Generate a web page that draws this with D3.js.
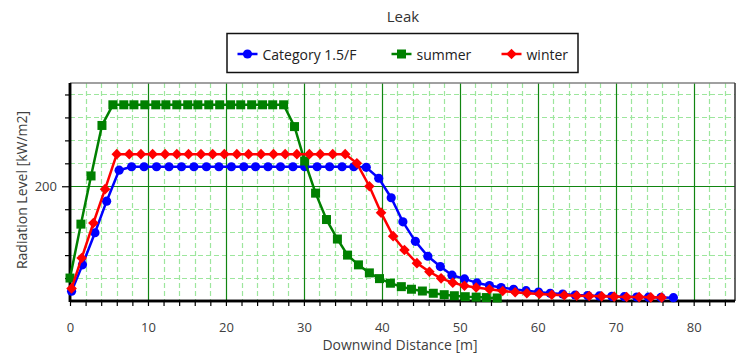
<!DOCTYPE html>
<html>
<head>
<meta charset="utf-8"/>
<title>Leak</title>
<script src="https://d3js.org/d3.v7.min.js"></script>
<style>
  body { margin: 0; padding: 0; background: #fff; width: 737px; height: 358px; overflow: hidden;
         font-family: 'Open Sans', 'Noto Sans', sans-serif; }
  .tick text { font-family: 'Open Sans', 'Noto Sans', sans-serif; }
</style>
</head>
<body>
<div id="chart"></div>
<script>
// Downwind distance [m] and radiation level for each scenario
const blueX = [0.2, 1.6, 3.2, 4.7, 6.3, 7.9, 9.5, 11.1, 12.7, 14.3, 15.9, 17.5, 19.1, 20.7, 22.3, 23.8, 25.4, 27.0, 28.6, 30.1,
               31.7, 33.3, 34.9, 36.4, 38.0, 39.6, 41.2, 42.7, 44.3, 45.9, 47.5, 49.0, 50.6, 52.2, 53.8, 55.3, 56.9, 58.5, 60.1, 61.6,
               63.2, 64.8, 66.4, 67.9, 69.5, 71.1, 72.7, 74.2, 75.8, 77.4];
const blueY = [17, 63, 119, 174, 228, 234, 234, 234, 234, 234, 234, 234, 234, 234, 234, 234, 234, 234, 234, 234,
               234, 234, 234, 234, 233, 214, 180, 138, 104, 78, 60, 45, 38.5, 31.5, 27, 23.5, 20.5, 18, 15.5, 13.5,
               12, 10.5, 9.5, 8.8, 8.2, 7.6, 7.0, 6.6, 6.2, 5.8];

const greenX = [0, 1.4, 2.7, 4.1, 5.5, 6.9, 8.2, 9.6, 11.0, 12.3, 13.7, 15.1, 16.4, 17.8, 19.2, 20.6, 21.9, 23.3, 24.7, 26.0,
                27.4, 28.8, 30.1, 31.5, 32.9, 34.3, 35.6, 37.0, 38.4, 39.7, 41.1, 42.5, 43.8, 45.2, 46.6, 48.0, 49.3, 50.7, 52.1, 53.4,
                54.8];
const greenY = [40, 134, 218, 306, 342, 342, 342, 342, 342, 342, 342, 342, 342, 342, 342, 342, 342, 342, 342, 342,
                342, 304, 244, 188, 142, 108, 80, 63, 49, 39, 31, 25, 20.5, 17.4, 13.5, 11, 9.2, 7.5, 6.8, 6,
                5.3];

const redX = [0.2, 1.5, 3.0, 4.5, 6.0, 7.6, 9.1, 10.6, 12.2, 13.7, 15.2, 16.8, 18.3, 19.8, 21.4, 22.9, 24.5, 26.1, 27.6, 29.1,
              30.7, 32.1, 33.7, 35.3, 36.8, 38.4, 39.9, 41.45, 42.9, 44.5, 46.1, 47.6, 49.1, 50.6, 52.1, 53.8, 55.5, 57.1, 58.6, 60.2,
              61.8, 63.4, 65.0, 66.6, 68.2, 69.8, 71.4, 73.0, 74.5, 75.9];
const redY = [22, 75, 136, 195, 256, 256, 256, 256, 256, 256, 256, 256, 256, 256, 256, 256, 256, 256, 256, 256,
              256, 256, 256, 256, 240, 200, 154, 113, 89, 66, 51, 39.5, 32, 26.5, 23.5, 20.5, 17.5, 15.3, 13.5, 12.2,
              11, 10, 9.2, 8.6, 8.1, 7.6, 7.1, 6.8, 6.4, 6];

const seriesNames = ["Category 1.5/F", "summer", "winter"];
const xMajorTicks = [0, 10, 20, 30, 40, 50, 60, 70, 80];
const yMajorTicks = [200];
const yMinorTicks = [40, 80, 120, 160, 240, 280, 320, 360];

const W = 737, H = 358;
const plot = {left: 70, top: 83, right: 735, bottom: 301};

const svg = d3.select("#chart").append("svg")
    .attr("width", W).attr("height", H);

const x = d3.scaleLinear().domain([0, 85.3]).range([plot.left, plot.right]);
const y = d3.scaleLinear().domain([0, 380]).range([plot.bottom, plot.top]);

const xMinorTicks = d3.range(2, 85, 2).filter(v => v % 10 !== 0);

// grid
const grid = svg.append("g");
grid.selectAll(".vminor").data(xMinorTicks).enter().append("line")
    .attr("x1", d => Math.round(x(d)) + 0.5).attr("x2", d => Math.round(x(d)) + 0.5)
    .attr("y1", plot.top).attr("y2", plot.bottom)
    .attr("stroke", "#9de69d").attr("stroke-width", 1.2).attr("stroke-dasharray", "5,3");
grid.selectAll(".hminor").data(yMinorTicks).enter().append("line")
    .attr("x1", plot.left).attr("x2", plot.right)
    .attr("y1", d => Math.round(y(d)) + 0.5).attr("y2", d => Math.round(y(d)) + 0.5)
    .attr("stroke", "#9de69d").attr("stroke-width", 1.2).attr("stroke-dasharray", "5,3");
grid.selectAll(".vmajor").data(xMajorTicks.filter(d => d > 0)).enter().append("line")
    .attr("x1", d => Math.round(x(d)) + 0.5).attr("x2", d => Math.round(x(d)) + 0.5)
    .attr("y1", plot.top).attr("y2", plot.bottom)
    .attr("stroke", "#118511").attr("stroke-width", 1.2);
grid.selectAll(".hmajor").data(yMajorTicks).enter().append("line")
    .attr("x1", plot.left).attr("x2", plot.right)
    .attr("y1", d => Math.round(y(d)) + 0.5).attr("y2", d => Math.round(y(d)) + 0.5)
    .attr("stroke", "#118511").attr("stroke-width", 1.2);

// frame top / right
svg.append("line").attr("x1", plot.left).attr("x2", plot.right).attr("y1", plot.top).attr("y2", plot.top)
    .attr("stroke", "#808080").attr("stroke-width", 1.5);
svg.append("line").attr("x1", plot.right).attr("x2", plot.right).attr("y1", plot.top).attr("y2", plot.bottom)
    .attr("stroke", "#333").attr("stroke-width", 1.5);

// axes
const xMinorAxis = svg.append("g").attr("transform", `translate(0,${plot.bottom})`)
    .call(d3.axisBottom(x).tickValues(xMinorTicks).tickSize(5).tickFormat(""));
const xAxis = svg.append("g").attr("transform", `translate(0,${plot.bottom})`)
    .call(d3.axisBottom(x).tickValues(xMajorTicks).tickSize(5).tickPadding(17).tickFormat(d3.format("d")));
const yMinorAxis = svg.append("g").attr("transform", `translate(${plot.left},0)`)
    .call(d3.axisLeft(y).tickValues(yMinorTicks).tickSize(5).tickFormat(""));
const yAxis = svg.append("g").attr("transform", `translate(${plot.left},0)`)
    .call(d3.axisLeft(y).tickValues(yMajorTicks).tickSize(8).tickPadding(5).tickFormat(d3.format("d")));

[xMinorAxis, xAxis, yMinorAxis, yAxis].forEach(g => {
    g.select(".domain").attr("stroke", "#000").attr("stroke-width", 2.5);
    g.selectAll(".tick line").attr("stroke", "#000").attr("stroke-width", 1.2);
    g.selectAll(".tick text").attr("fill", "#404040").style("font-size", "13px");
});
xMinorAxis.select(".domain").attr("d", `M${plot.left},0H${plot.right}`);
xAxis.select(".domain").attr("d", `M${plot.left},0H${plot.right}`);
yMinorAxis.select(".domain").attr("d", `M0,${plot.bottom + 1}V${plot.top}`);
yAxis.select(".domain").attr("d", `M0,${plot.bottom + 1}V${plot.top}`);

// series
const series = [
    {name: seriesNames[0], xs: blueX, ys: blueY, color: "#0000ff", shape: "circle"},
    {name: seriesNames[1], xs: greenX, ys: greenY, color: "#008000", shape: "square"},
    {name: seriesNames[2], xs: redX, ys: redY, color: "#ff0000", shape: "diamond"}
];

function marker(g, shape, color) {
    if (shape === "circle") {
        g.append("circle").attr("r", 4.6).attr("fill", color);
    } else if (shape === "square") {
        g.append("rect").attr("x", -4.5).attr("y", -4.5).attr("width", 9).attr("height", 9).attr("fill", color);
    } else {
        g.append("path").attr("d", "M0,-5.3L5.3,0L0,5.3L-5.3,0Z").attr("fill", color);
    }
}

const line = d3.line().x(d => x(d[0])).y(d => y(d[1]));

series.forEach(s => {
    const pts = s.xs.map((v, i) => [v, s.ys[i]]);
    svg.append("path").datum(pts)
        .attr("fill", "none").attr("stroke", s.color).attr("stroke-width", 2.5)
        .attr("stroke-linejoin", "round").attr("d", line);
    svg.append("g").selectAll("g").data(pts).enter().append("g")
        .attr("transform", d => `translate(${x(d[0])},${y(d[1])})`)
        .each(function() { marker(d3.select(this), s.shape, s.color); });
});

// title
svg.append("text").attr("x", 403).attr("y", 22).attr("text-anchor", "middle")
    .attr("fill", "#333").style("font-size", "15px").text("Leak");

// legend
svg.append("rect").attr("x", 227).attr("y", 33.5).attr("width", 351).attr("height", 39)
    .attr("fill", "#fff").attr("stroke", "#111").attr("stroke-width", 1.5);
const legendPos = [237.5, 391.5, 501.5];
series.forEach((s, i) => {
    const g = svg.append("g").attr("transform", `translate(${legendPos[i]},54)`);
    g.append("line").attr("x1", 0).attr("x2", 20).attr("stroke", s.color).attr("stroke-width", 2.5);
    const m = g.append("g").attr("transform", "translate(10,0)");
    marker(m, s.shape, s.color);
    g.append("text").attr("x", 25).attr("y", 5.5).attr("fill", "#222")
        .style("font-size", "14px").text(s.name);
});

// axis titles
svg.append("text").attr("x", 400).attr("y", 350).attr("text-anchor", "middle")
    .attr("fill", "#404040").style("font-size", "14px").text("Downwind Distance [m]");
svg.append("text").attr("transform", "translate(27,190) rotate(-90)").attr("text-anchor", "middle")
    .attr("fill", "#404040").style("font-size", "14px").text("Radiation Level [kW/m2]");
</script>
</body>
</html>
